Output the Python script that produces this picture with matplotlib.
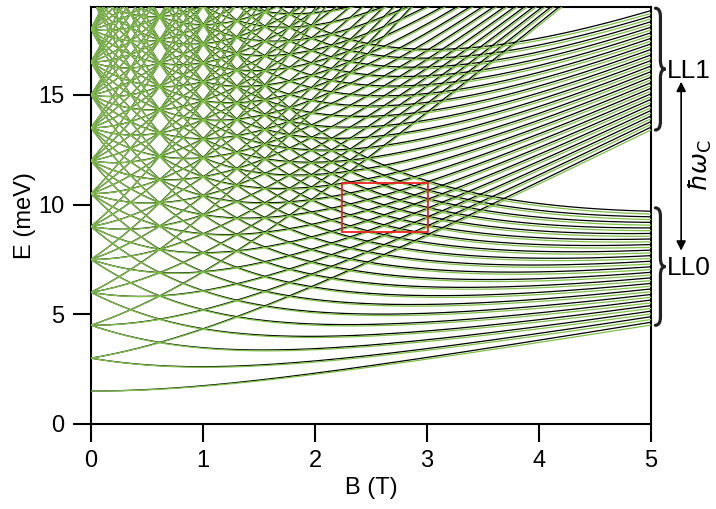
import numpy as np
import matplotlib
matplotlib.use("Agg")
import matplotlib.pyplot as plt
from matplotlib.path import Path
from matplotlib.patches import PathPatch, Rectangle

plt.rcParams['font.family'] = ['Liberation Sans', 'DejaVu Sans']
plt.rcParams['mathtext.fontset'] = 'dejavusans'

# values
hw0 = 1.5             # meV, level spacing at B = 0
hwc_per_T = 1.728     # meV/T, cyclotron energy (LL0 -> LL1 gap)
zeeman_per_T = 0.0255 # meV/T, splitting black/green
n_values = list(range(0, 9))
l_values = list(range(-20, 21))
B = np.linspace(0, 5, 501)

box_B = [2.24, 3.01]
box_E = [8.77, 11.0]

fig = plt.figure(figsize=(7.16, 5.09), dpi=100)
ax = fig.add_axes([0.1271, 0.167, 0.782, 0.819])

hwc = hwc_per_T * B
hW = np.sqrt(hw0**2 + hwc**2 / 4)
ez = zeeman_per_T * B

for n in n_values:
    for l in l_values:
        E = (2*n + abs(l) + 1) * hW - l * hwc / 2
        ax.plot(B, E + ez/2, color='black', lw=0.9, zorder=2)
for n in n_values:
    for l in l_values:
        E = (2*n + abs(l) + 1) * hW - l * hwc / 2
        ax.plot(B, E - ez/2, color='#80c248', lw=0.9, zorder=3)

ax.add_patch(Rectangle((box_B[0], box_E[0]), box_B[1]-box_B[0], box_E[1]-box_E[0],
                       fill=False, edgecolor='#ee2222', lw=1.3, zorder=5))

ax.set_xlim(0, 5)
ax.set_ylim(0, 19)
ax.set_xticks([0, 1, 2, 3, 4, 5])
ax.set_yticks([0, 5, 10, 15])
ax.tick_params(direction='out', length=13, width=1.5, labelsize=17, pad=6)
for s in ax.spines.values():
    s.set_linewidth(1.5)
ax.set_xlabel('B (T)', fontsize=17, labelpad=3)
ax.set_ylabel('E (meV)', fontsize=17, labelpad=2)


def brace(x, ylo, yhi, w):
    ym = (ylo + yhi) / 2
    d = (yhi - ylo) * 0.07
    verts = [(x, yhi), (x + w/2, yhi), (x + w/2, yhi - d),
             (x + w/2, ym + d), (x + w/2, ym), (x + w, ym),
             (x + w/2, ym), (x + w/2, ym - d),
             (x + w/2, ylo + d), (x + w/2, ylo), (x, ylo)]
    codes = [Path.MOVETO, Path.CURVE3, Path.CURVE3, Path.LINETO,
             Path.CURVE3, Path.CURVE3, Path.CURVE3, Path.CURVE3,
             Path.LINETO, Path.CURVE3, Path.CURVE3]
    ax.add_patch(PathPatch(Path(verts, codes), fill=False, lw=2.3,
                           edgecolor='#222222', clip_on=False, capstyle='round'))


brace(5.04, 13.4, 18.95, 0.09)
brace(5.04, 4.5, 9.85, 0.09)
ax.text(5.14, 16.1, 'LL1', fontsize=19, va='center', ha='left')
ax.text(5.14, 7.1, 'LL0', fontsize=19, va='center', ha='left')
ax.annotate('', xy=(5.27, 15.6), xytext=(5.27, 7.9), annotation_clip=False,
            arrowprops=dict(arrowstyle='<|-|>', color='black', lw=1.2,
                            mutation_scale=14, shrinkA=0, shrinkB=0))
ax.text(5.44, 11.8, r'$\hbar\omega_\mathrm{C}$', fontsize=18, rotation=90,
        va='center', ha='center')

fig.savefig('out.png', dpi=100)
